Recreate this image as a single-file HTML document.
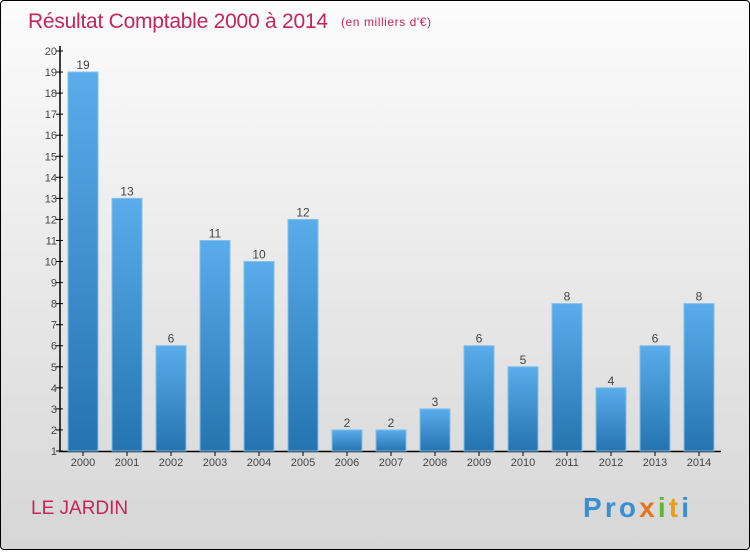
<!DOCTYPE html>
<html><head><meta charset="utf-8"><style>
html,body{margin:0;padding:0}
body{width:750px;height:550px;overflow:hidden;font-family:"Liberation Sans",sans-serif}
#frame{position:absolute;left:0;top:0;width:748px;height:548px;border:1px solid #000;border-radius:4px;background:linear-gradient(#fcfcfc,#d6d6d6)}
</style></head><body>
<div id="frame">
<svg width="750" height="550">
<defs><linearGradient id="bg" x1="0" y1="0" x2="0" y2="1"><stop offset="0" stop-color="#5aacea"/><stop offset="1" stop-color="#2574b0"/></linearGradient></defs>
<text x="27" y="27" font-size="21" fill="#c4255a" textLength="300">Résultat Comptable 2000 à 2014</text>
<text x="340" y="25" font-size="12" fill="#c4255a" textLength="90">(en milliers d'€)</text>
<g id="axes"></g><g id="bars"></g>
<text x="30" y="513" font-size="19" fill="#c4255a">LE JARDIN</text>
<text x="582" y="516" font-size="28" font-weight="bold" textLength="106"><tspan fill="#3a8fd0">Pro</tspan><tspan fill="#e8731c">x</tspan><tspan fill="#5cb82e">i</tspan><tspan fill="#e8a01c">t</tspan><tspan fill="#3a8fd0">i</tspan></text>
</svg></div>
<script>
const years=["2000","2001","2002","2003","2004","2005","2006","2007","2008","2009","2010","2011","2012","2013","2014"];
const values=[19,13,6,11,10,12,2,2,3,6,5,8,4,6,8];
const yTicks=[1,2,3,4,5,6,7,8,9,10,11,12,13,14,15,16,17,18,19,20];
const NS="http://www.w3.org/2000/svg";
const y=v=>450-(v-1)*400/19;
const x=i=>82+i*44;
function mk(t,a,p){const e=document.createElementNS(NS,t);for(const k in a)e.setAttribute(k,a[k]);p.appendChild(e);return e;}
const ax=document.getElementById('axes'),bs=document.getElementById('bars');
let l=mk('line',{x1:59,y1:45,x2:59,y2:451,stroke:'#000','stroke-width':1.5},ax);


l=mk('line',{x1:58,y1:450.5,x2:720,y2:450.5,stroke:'#000','stroke-width':1.5},ax);


yTicks.forEach(v=>{
 const tk=mk('line',{x1:55,y1:y(v),x2:62,y2:y(v),stroke:'#000'},ax);
 
 
 const t=mk('text',{x:56,y:y(v)+4,'font-size':11,fill:'#444','text-anchor':'end'},ax);
 t.textContent=v;
 
 
});
years.forEach((yr,i)=>{
 const r=mk('rect',{x:x(i)-15,y:y(values[i]),width:30,height:450-y(values[i]),fill:'url(#bg)',stroke:'#7fc0ef','stroke-width':1},bs);
 
 
 const t=mk('text',{x:x(i),y:y(values[i])-3,'font-size':12,fill:'#444','text-anchor':'middle'},bs);
 t.textContent=values[i];
 
 
 const tk=mk('line',{x1:x(i),y1:450,x2:x(i),y2:455,stroke:'#000'},ax);
 
 
 const xl=mk('text',{x:x(i),y:465,'font-size':11,fill:'#444','text-anchor':'middle'},ax);
 xl.textContent=yr;
 
 
});
</script>
</body></html>
